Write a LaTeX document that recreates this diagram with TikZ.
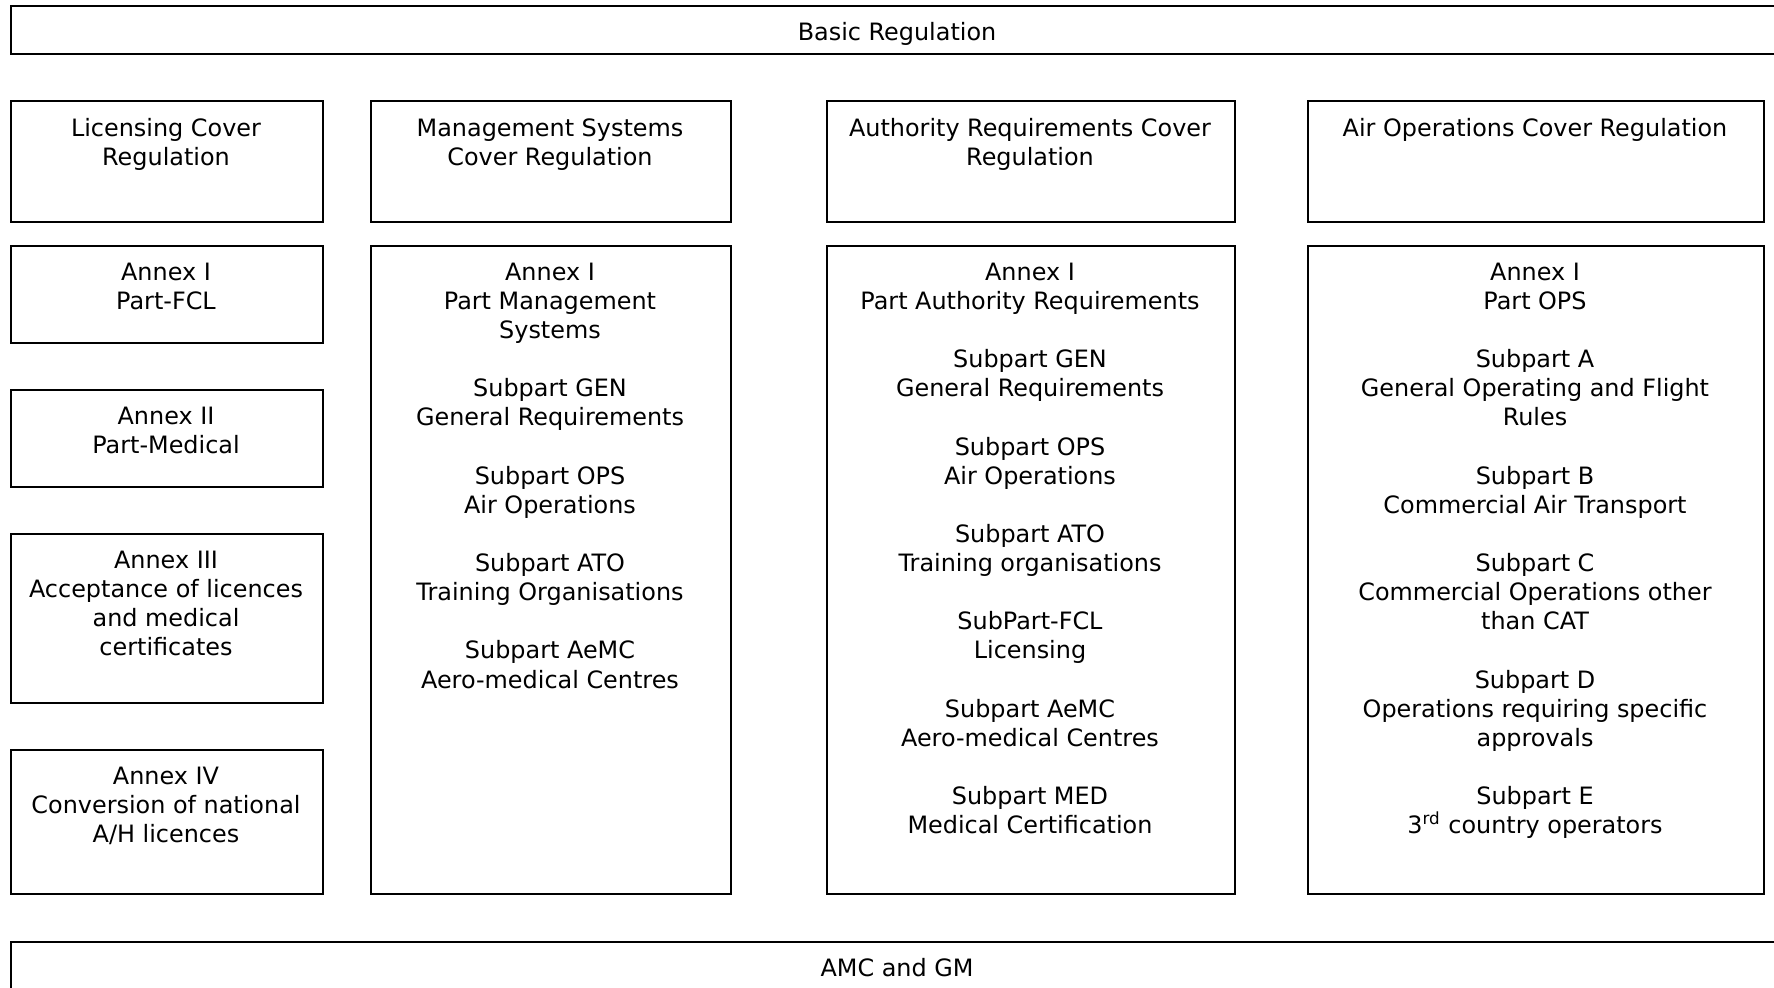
\documentclass[tikz,border=0pt]{standalone}
\usepackage{fontspec}
\setmainfont{DejaVu Sans}
\begin{document}
\begin{tikzpicture}[x=0.5pt,y=-0.5pt,
  box/.style={draw=black,line width=1pt,inner sep=0pt,anchor=north west},
  txt/.style={inner sep=0pt,anchor=north,align=center,font=\fontsize{11.95}{14.56}\selectfont},
  btxt/.style={inner sep=0pt,anchor=base,font=\fontsize{11.95}{14.56}\selectfont}]
\useasboundingbox (0,0) rectangle (1774,988);
\clip (0,0) rectangle (1774,988);
% top and bottom bands
\node[box,minimum width=887pt,minimum height=24pt] (basic) at (10,5) {};
\node[btxt] (basict) at (897,40.5) {Basic Regulation};
\node[box,minimum width=887pt,minimum height=40pt] (amc) at (10,941) {};
\node[btxt] (amct) at (897,976.5) {AMC and GM};
% cover regulations
\node[box,minimum width=156pt,minimum height=60.5pt] (lic) at (10,100) {};
\node[txt] (lict) at (166,116) {\strut Licensing Cover\\Regulation};
\node[box,minimum width=180pt,minimum height=60.5pt] (mgt) at (370,100) {};
\node[txt] (mgtt) at (550,116) {\strut Management Systems\\Cover Regulation};
\node[box,minimum width=204pt,minimum height=60.5pt] (aut) at (826,100) {};
\node[txt] (autt) at (1030,116) {\strut Authority Requirements Cover\\Regulation};
\node[box,minimum width=228pt,minimum height=60.5pt] (air) at (1307,100) {};
\node[txt] (airt) at (1535,116) {\strut Air Operations Cover Regulation};
% licensing annexes
\node[box,minimum width=156pt,minimum height=48.5pt] (a1) at (10,245) {};
\node[txt] (a1t) at (166,259.6) {\strut Annex I\\Part-FCL};
\node[box,minimum width=156pt,minimum height=48.5pt] (a2) at (10,389) {};
\node[txt] (a2t) at (166,403.6) {\strut Annex II\\Part-Medical};
\node[box,minimum width=156pt,minimum height=84.5pt] (a3) at (10,533) {};
\node[txt] (a3t) at (166,547.6) {\strut Annex III\\Acceptance of licences\\and medical\\certificates};
\node[box,minimum width=156pt,minimum height=72pt] (a4) at (10,749) {};
\node[txt] (a4t) at (166,763.6) {\strut Annex IV\\Conversion of national\\A/H licences};
% management systems annex
\node[box,minimum width=180pt,minimum height=324pt] (mga) at (370,245) {};
\node[txt] (mgat) at (550,259.6) {\strut Annex I\\Part Management\\Systems\\[14.56pt]
Subpart GEN\\General Requirements\\[14.56pt]
Subpart OPS\\Air Operations\\[14.56pt]
Subpart ATO\\Training Organisations\\[14.56pt]
Subpart AeMC\\Aero-medical Centres};
% authority requirements annex
\node[box,minimum width=204pt,minimum height=324pt] (aua) at (826,245) {};
\node[txt] (auat) at (1030,259.6) {\strut Annex I\\Part Authority Requirements\\[14.56pt]
Subpart GEN\\General Requirements\\[14.56pt]
Subpart OPS\\Air Operations\\[14.56pt]
Subpart ATO\\Training organisations\\[14.56pt]
SubPart-FCL\\Licensing\\[14.56pt]
Subpart AeMC\\Aero-medical Centres\\[14.56pt]
Subpart MED\\Medical Certification};
% air operations annex
\node[box,minimum width=228pt,minimum height=324pt] (aia) at (1307,245) {};
\node[txt] (aiat) at (1535,259.6) {\strut Annex I\\Part OPS\\[14.56pt]
Subpart A\\General Operating and Flight\\Rules\\[14.56pt]
Subpart B\\Commercial Air Transport\\[14.56pt]
Subpart C\\Commercial Operations other\\than CAT\\[14.56pt]
Subpart D\\Operations requiring specific\\approvals\\[14.56pt]
Subpart E\\3\textsuperscript{rd} country operators};
\end{tikzpicture}
\end{document}
